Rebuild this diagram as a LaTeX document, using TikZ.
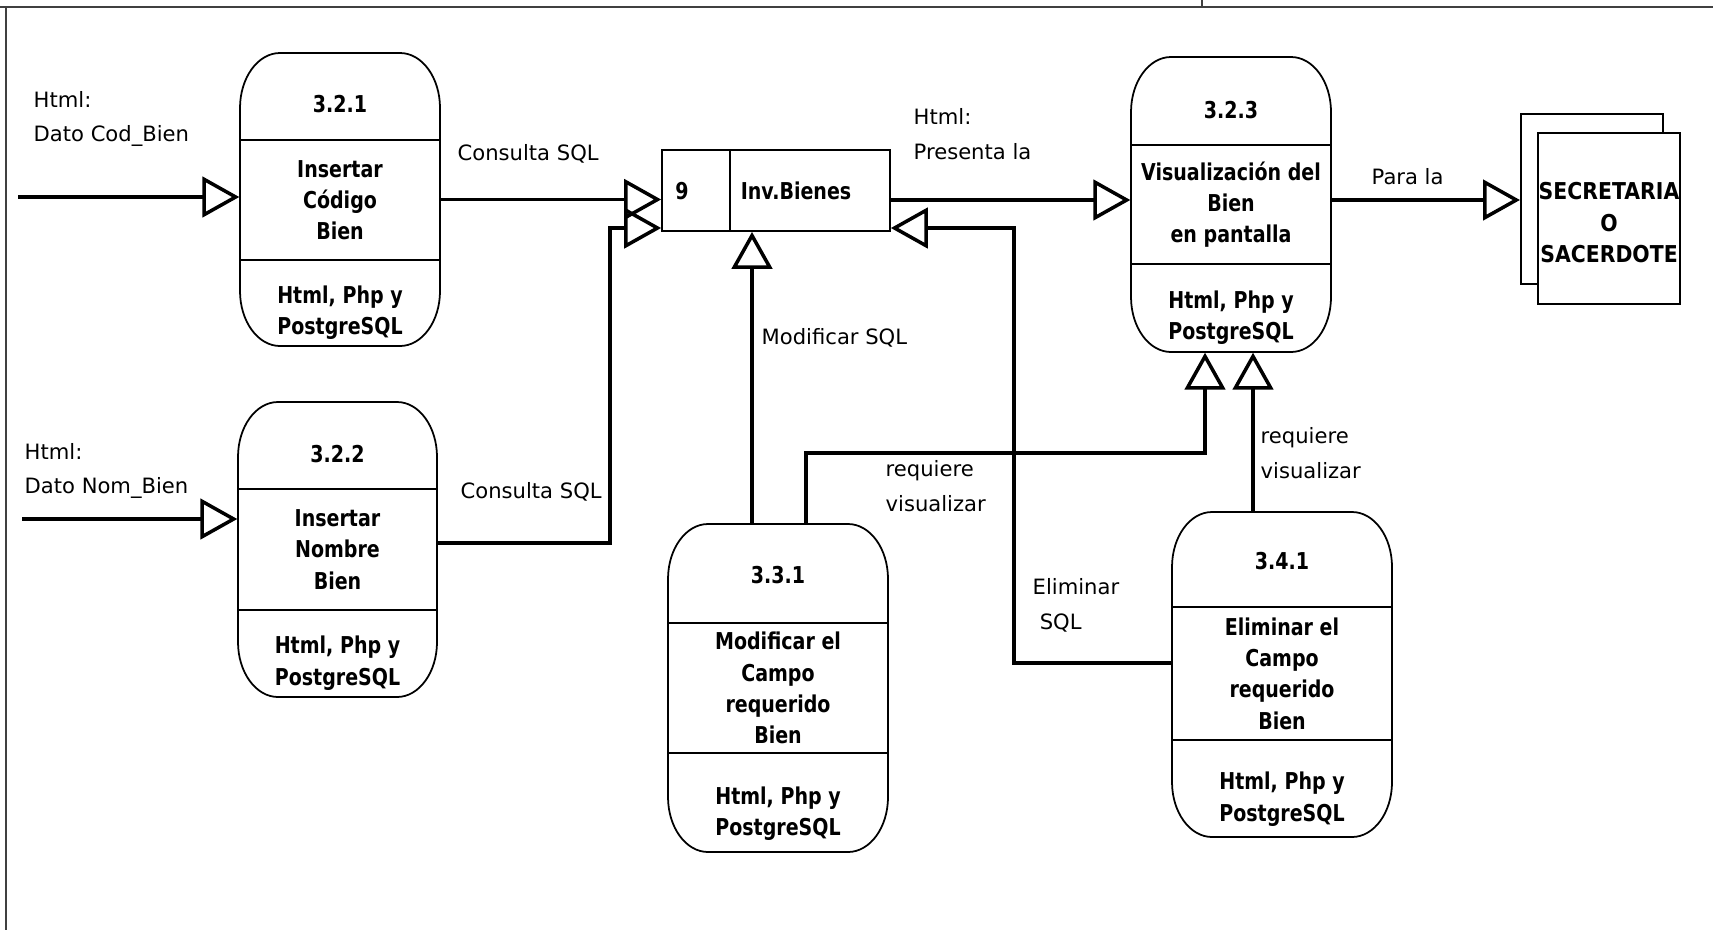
\documentclass[tikz,border=0pt]{standalone}
\usepackage{fontspec}
\setmainfont{DejaVu Sans}
\newfontfamily\bxf{DejaVu Sans}[FakeStretch=0.82]
\newfontfamily\bxe{DejaVu Sans}[FakeStretch=0.88]
\usetikzlibrary{arrows.meta,fit,calc}
\tikzset{
  boxline/.style={line width=0.5pt},
  divline/.style={line width=0.5pt},
  flow/.style={line width=1.1pt,-{Triangle[open,length=10.5pt,width=11.5pt,line width=1pt]}},
  plainlbl/.style={font=\fontsize{6.0}{9.9}\selectfont,align=left,anchor=west,inner sep=0pt},
  idtext/.style={font=\bxf\bfseries\fontsize{6.6}{9}\selectfont,inner sep=0pt},
  bodytext/.style={font=\bxf\bfseries\fontsize{6.6}{8.9}\selectfont,align=center,inner sep=0pt},
  enttext/.style={font=\bxe\bfseries\fontsize{6.6}{9}\selectfont,align=center,inner sep=0pt},
  framel/.style={line width=0.7pt,draw=black!75}
}
\def\idf{0.58}
\newcommand\proc[9]{%
  \node[fit={(#2,#3)(#4,#5)},inner sep=0pt] (#1) {};
  \draw[boxline] (#2,#3+55) arc[start angle=180,end angle=270,x radius=40,y radius=55]
    -- (#4-40,#3) arc[start angle=270,end angle=360,x radius=40,y radius=55]
    -- (#4,#5-55) arc[start angle=0,end angle=90,x radius=40,y radius=55]
    -- (#2+40,#5) arc[start angle=90,end angle=180,x radius=40,y radius=55] -- cycle;
  \draw[divline] (#2,#6) -- (#4,#6) (#2,#7) -- (#4,#7);
  \node[idtext] (#1-id) at ({(#2+#4)/2},{#3+\idf*(#6-#3)}) {#8};
  \node[bodytext] (#1-t) at ({(#2+#4)/2},{(#6+#7)/2}) {#9};
  \node[bodytext] (#1-b) at ({(#2+#4)/2},{#7+0.61*(#5-#7)}) {Html, Php y\\PostgreSQL};
}
\begin{document}
\begin{tikzpicture}[x=0.01cm,y=-0.01cm]
\useasboundingbox (0,0) rectangle (1713,930);
% frame
\draw[framel] (0,7) -- (1713,7);
\draw[framel] (6,7) -- (6,930);
\draw[framel] (1202,0) -- (1202,7);
% processes
\def\idf{0.59}
\proc{p321}{240}{53}{440}{346}{140}{260}{3.2.1}{Insertar\\Código\\Bien}
\def\idf{0.6}
\proc{p322}{238}{402}{437}{697}{489}{610}{3.2.2}{Insertar\\Nombre\\Bien}
\proc{p323}{1131}{57}{1331}{352}{145}{264}{3.2.3}{Visualización del\\Bien\\en pantalla}
\def\idf{0.52}
\proc{p331}{668}{524}{888}{852}{623}{753}{3.3.1}{Modificar el\\Campo\\requerido\\Bien}
\proc{p341}{1172}{512}{1392}{837}{607}{740}{3.4.1}{Eliminar el\\Campo\\requerido\\Bien}
% data store
\node[fit={(662,150)(890,231)},inner sep=0pt,draw,line width=0.5pt] (store) {};
\draw[line width=0.5pt] (730,150) -- (730,231);
\node[idtext] (store-n) at (682,191) {9};
\node[idtext] (store-t) at (796,191) {Inv.Bienes};
% external entity
\node[fit={(1521,114)(1663,284)},inner sep=0pt,draw,line width=0.6pt] (entback) {};
\node[fit={(1538,133)(1680,304)},inner sep=0pt,draw,line width=0.6pt,fill=white] (ent) {};
\node[enttext] (ent-t) at ([yshift=-1.2pt]ent.center) {SECRETARIA\\O\\SACERDOTE};
% coordinates
\coordinate (in1) at (18,197);
\coordinate (in2) at (22,519);
\coordinate (s2) at (437,543);
\coordinate (j2) at (610,228);
\coordinate (a3) at (890,200);
\coordinate (a4) at (1331,200);
\coordinate (e0) at (1172,663);
\coordinate (e1) at (1014,228);
\coordinate (r1) at (806,453);
% connectors
\draw[flow] (in1) -- (in1 -| p321.west);
\draw[flow] (in2) -- (in2 -| p322.west);
\draw[flow] (p321.east) -- (p321.east -| store.west);
\draw[flow] (s2) -| (j2) -- (j2 -| store.west);
\draw[flow] (a3) -- (a3 -| p323.west);
\draw[flow] (e0) -| (e1) -- (e1 -| store.east);
\draw[flow] (752,0 |- p331.north) -- (752,0 |- store.south);
\draw[flow] (r1 |- p331.north) -- (r1) -| (1205,0 |- p323.south);
\draw[flow] (1253,0 |- p341.north) -- (1253,0 |- p323.south);
\draw[flow] (a4) -- (a4 -| entback.west);
% labels
\node[plainlbl] (l1) at (33,119) {Html:\\Dato Cod\_Bien};
\node[plainlbl] (l2) at (24,471) {Html:\\Dato Nom\_Bien};
\node[plainlbl] (l3) at (457,154) {Consulta SQL};
\node[plainlbl] (l4) at (460,492) {Consulta SQL};
\node[plainlbl] (l5) at (913,134) {Html:\\Presenta la};
\node[plainlbl] (l6) at (761,338) {Modificar SQL};
\node[plainlbl] (l7) at (885,486) {requiere\\visualizar};
\node[plainlbl] (l8) at (1260,453) {requiere\\visualizar};
\node[plainlbl] (l9) at (1032,605) {Eliminar\\\hspace{2pt}SQL};
\node[plainlbl] (l10) at (1371,177) {Para la};
\end{tikzpicture}
\end{document}
